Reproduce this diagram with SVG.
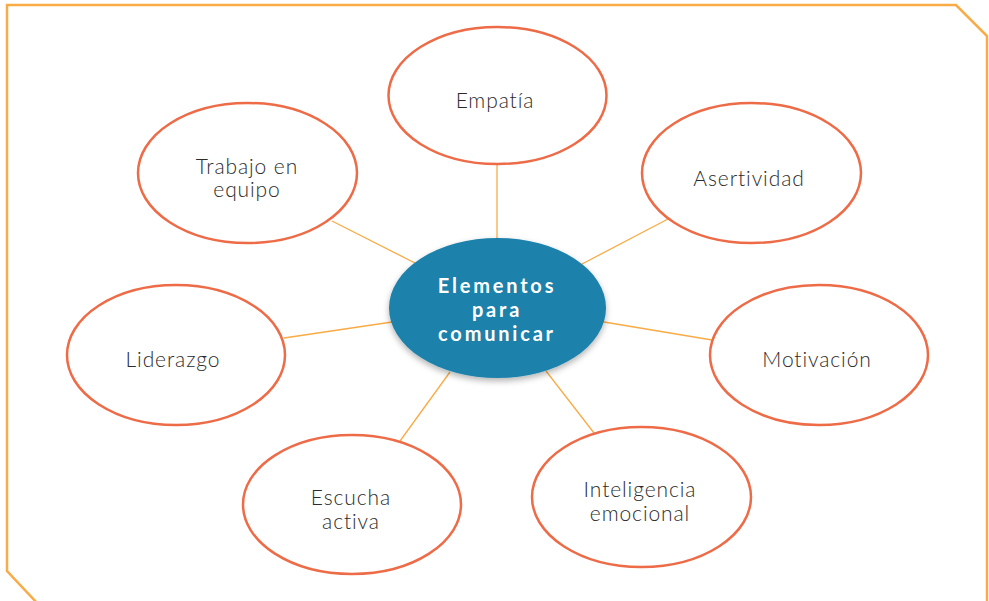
<svg xmlns="http://www.w3.org/2000/svg" width="989" height="601" viewBox="0 0 989 601">
  <defs>
    <filter id="shadow" x="-20%" y="-20%" width="140%" height="150%">
      <feDropShadow dx="0" dy="3" stdDeviation="3" flood-color="#000" flood-opacity="0.3"/>
    </filter>
    <style>
      .frame { fill: #ffffff; stroke: #F9AB45; stroke-width: 2.5; }
      .conn { stroke: #F9AB45; stroke-width: 1.3; fill: none; }
      .node { fill: #ffffff; stroke: #EE6B47; stroke-width: 2.5; }
      .label { font-family: "Lato", "Open Sans", sans-serif; font-weight: 300; font-size: 21px; fill: #2b2b2b; text-anchor: middle; letter-spacing: 0.9px; }
      .center { fill: #1C81AB; filter: url(#shadow); }
      .clabel { font-family: "Lato", "Noto Sans", sans-serif; font-weight: bold; font-size: 20px; fill: #ffffff; text-anchor: middle; letter-spacing: 2.8px; }
    </style>
  </defs>
  <rect width="989" height="601" fill="#ffffff"/>
  <path class="frame" d="M7,5 L956,5 L987,36 L987,604 L38,604 L7,571 Z"/>
  <g id="connectors">
    <line class="conn" x1="497" y1="164" x2="497" y2="240"/>
    <line class="conn" x1="668" y1="219" x2="582" y2="264"/>
    <line class="conn" x1="604" y1="322" x2="712" y2="340"/>
    <line class="conn" x1="546" y1="371" x2="594" y2="433"/>
    <line class="conn" x1="450" y1="372" x2="400" y2="441"/>
    <line class="conn" x1="284" y1="338" x2="392" y2="322"/>
    <line class="conn" x1="332" y1="221" x2="415" y2="263"/>
  </g>
  <g id="empatia">
    <ellipse class="node" cx="497.5" cy="95.5" rx="109" ry="68.5"/>
    <text class="label" x="495" y="108">Empatía</text>
  </g>
  <g id="asertividad">
    <ellipse class="node" cx="751.5" cy="173" rx="109.5" ry="70"/>
    <text class="label" x="749" y="186">Asertividad</text>
  </g>
  <g id="motivacion">
    <ellipse class="node" cx="819" cy="355" rx="109" ry="70"/>
    <text class="label" x="817" y="367">Motivación</text>
  </g>
  <g id="inteligencia">
    <ellipse class="node" cx="641.5" cy="497" rx="109.5" ry="70"/>
    <text class="label" x="640" y="497">Inteligencia</text>
    <text class="label" x="640" y="521">emocional</text>
  </g>
  <g id="escucha">
    <ellipse class="node" cx="352" cy="504.5" rx="109" ry="69.5"/>
    <text class="label" x="351" y="505">Escucha</text>
    <text class="label" x="351" y="529">activa</text>
  </g>
  <g id="liderazgo">
    <ellipse class="node" cx="176" cy="355" rx="109" ry="70"/>
    <text class="label" x="173" y="367">Liderazgo</text>
  </g>
  <g id="trabajo">
    <ellipse class="node" cx="247.5" cy="173" rx="109.5" ry="70"/>
    <text class="label" x="247" y="174">Trabajo en</text>
    <text class="label" x="247" y="197">equipo</text>
  </g>
  <g id="central">
    <ellipse class="center" cx="497.5" cy="308" rx="108.5" ry="70"/>
    <text class="clabel" x="497" y="293">Elementos</text>
    <text class="clabel" x="497" y="317">para</text>
    <text class="clabel" x="497" y="341">comunicar</text>
  </g>
</svg>
